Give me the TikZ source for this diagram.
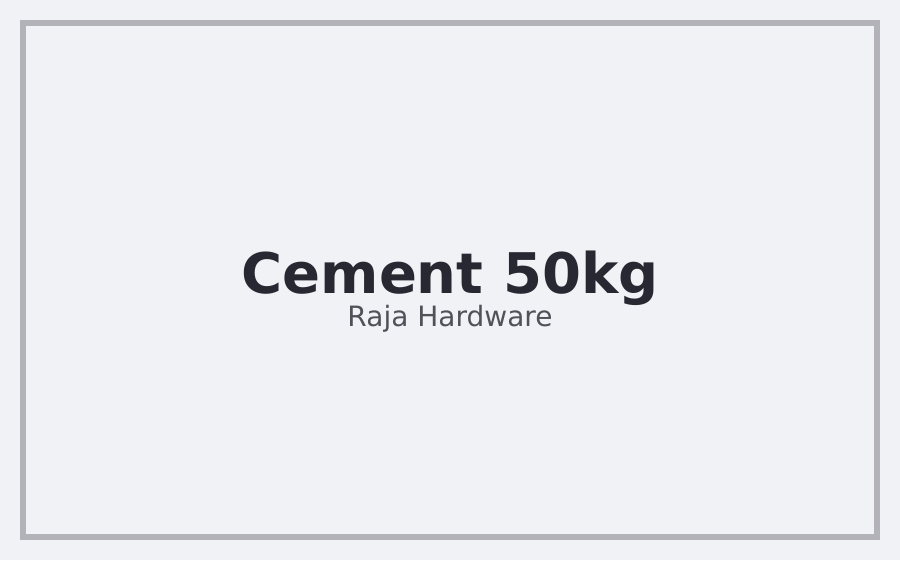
\documentclass[tikz,border=0pt]{standalone}
\usepackage{fontspec}
\setmainfont{DejaVu Sans}
\definecolor{bgc}{HTML}{F1F2F6}
\definecolor{framec}{HTML}{B2B2B8}
\definecolor{titlec}{HTML}{272832}
\definecolor{subc}{HTML}{50525A}
\tikzset{
  titletext/.style={font=\fontsize{56}{60}\selectfont\bfseries, text=titlec, anchor=base, inner sep=0pt},
  subtext/.style={font=\fontsize{28}{32}\selectfont, text=subc, anchor=base, inner sep=0pt},
  framebox/.style={draw=framec, line width=6pt}
}
\begin{document}
\begin{tikzpicture}[x=1pt,y=-1pt]
\fill[bgc] (0,0) rectangle (900,560);
\useasboundingbox (0,0) rectangle (900,560);
\draw[framebox] (23,23) rectangle (877,537);
\node[titletext] (title) at (450,293) {Cement 50kg};
\node[subtext] (sub) at (450,326) {Raja Hardware};
\end{tikzpicture}
\end{document}
